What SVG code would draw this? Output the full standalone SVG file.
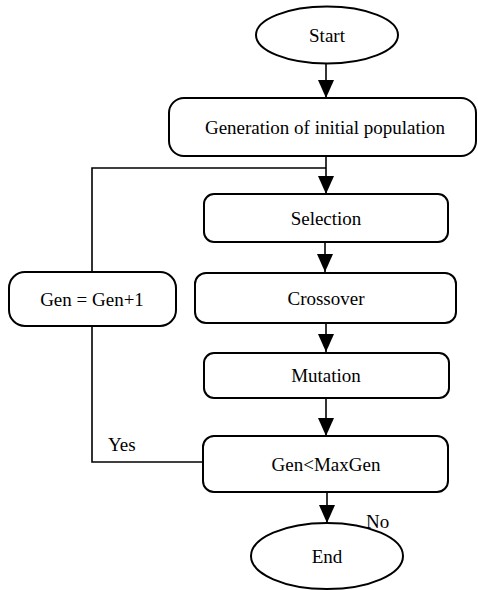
<svg xmlns="http://www.w3.org/2000/svg" width="478" height="590" viewBox="0 0 478 590">
  <style>
    .shape { fill: #ffffff; stroke: #000000; stroke-width: 2; }
    text { font-family: "Liberation Serif", "DejaVu Serif", "Times New Roman", serif; font-size: 19px; fill: #000000; }
    .label { text-anchor: middle; }
    .wire { fill: none; stroke: #000000; stroke-width: 1.6; }
  </style>
  <defs>
    <marker id="arrow" markerUnits="userSpaceOnUse" markerWidth="18" markerHeight="16" refX="18" refY="8" orient="auto">
      <path d="M0,0 L18,8 L0,16 Z" fill="#000000"/>
    </marker>
  </defs>
  <rect width="478" height="590" fill="#ffffff"/>

  <!-- flow connectors and the Yes feedback loop -->
  <g id="connectors">
    <path class="wire" d="M326,63 V98" marker-end="url(#arrow)"/>
    <path class="wire" d="M326,156 V194" marker-end="url(#arrow)"/>
    <path class="wire" d="M202,462 H92 V326"/>
    <path class="wire" d="M92,272 V168 H326"/>
    <path class="wire" d="M325,242 V272" marker-end="url(#arrow)"/>
    <path class="wire" d="M326,323 V352" marker-end="url(#arrow)"/>
    <path class="wire" d="M326,398 V436" marker-end="url(#arrow)"/>
    <path class="wire" d="M327,492 V523" marker-end="url(#arrow)"/>
  </g>

  <g id="start">
    <ellipse class="shape" cx="327" cy="35" rx="71" ry="28.5"/>
    <text class="label" x="327" y="41.5" font-family="Liberation Serif, serif">Start</text>
  </g>

  <g id="init-population">
    <rect class="shape" x="169" y="98" width="307" height="58" rx="15"/>
    <text class="label" x="325" y="133.5" font-family="Liberation Serif, serif">Generation of initial population</text>
  </g>

  <g id="selection">
    <rect class="shape" x="204" y="194" width="244" height="48" rx="10"/>
    <text class="label" x="326" y="224.5" font-family="Liberation Serif, serif">Selection</text>
  </g>

  <g id="crossover">
    <rect class="shape" x="195" y="273" width="261" height="50" rx="11"/>
    <text class="label" x="326" y="304.5" font-family="Liberation Serif, serif">Crossover</text>
  </g>

  <g id="mutation">
    <rect class="shape" x="204" y="353" width="245" height="45" rx="10"/>
    <text class="label" x="326" y="382" font-family="Liberation Serif, serif">Mutation</text>
  </g>

  <g id="gen-check">
    <rect class="shape" x="203" y="436" width="245" height="56" rx="11"/>
    <text class="label" x="326" y="470.5" font-family="Liberation Serif, serif">Gen&lt;MaxGen</text>
  </g>

  <g id="gen-increment">
    <rect class="shape" x="9" y="272" width="167" height="54" rx="16"/>
    <text class="label" x="92" y="305.5" font-family="Liberation Serif, serif">Gen = Gen+1</text>
  </g>

  <g id="end">
    <ellipse class="shape" cx="327" cy="556" rx="76" ry="33"/>
    <text class="label" x="327" y="562.5" font-family="Liberation Serif, serif">End</text>
  </g>

  <text x="108" y="451" font-family="Liberation Serif, serif">Yes</text>
  <text x="366" y="528" font-family="Liberation Serif, serif">No</text>
</svg>
